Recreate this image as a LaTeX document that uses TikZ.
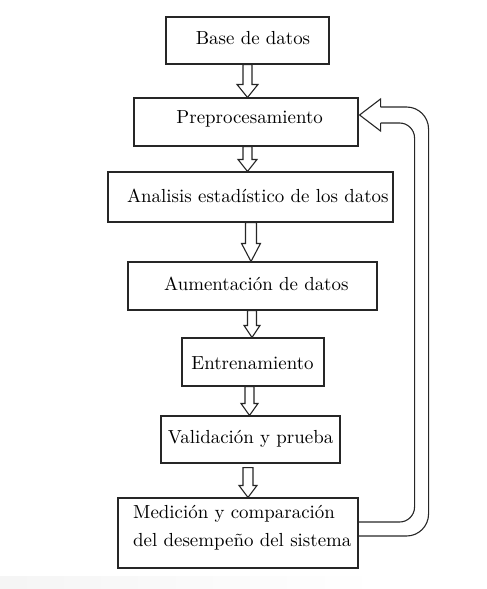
\documentclass[tikz,border=0pt]{standalone}
\usetikzlibrary{calc}
\begin{document}
\begin{tikzpicture}[x=1pt,y=-1pt,
  box/.style={draw=black!85, line width=1.1pt, inner sep=0pt},
  txt/.style={inner sep=0pt, anchor=base, font=\fontsize{10}{12}\selectfont},
  arrowline/.style={draw=black!85, line width=1.1pt, fill=white, line join=miter}]
\useasboundingbox (0,0) rectangle (487,589);
\shade[left color=black!4, right color=white, draw=none] (0,576) rectangle (380,589);

\newcommand\blockar[6]{%
  \draw[arrowline] let \p1=(#1), \p2=(#2) in
   (\x1+#3-#4,\y1) -- (\x1+#3-#4,\y2+#6) -- (\x1+#3-#5,\y2+#6) -- (\x1+#3,\y2)
   -- (\x1+#3+#5,\y2+#6) -- (\x1+#3+#4,\y2+#6) -- (\x1+#3+#4,\y1) -- cycle;}
\newcommand\bigtxt[1]{\scalebox{1.89}{#1}}

% boxes
\node[box, minimum width=163, minimum height=47] (b1) at (247.5,40.5) {};
\node[box, minimum width=224, minimum height=48] (b2) at (246,122) {};
\node[box, minimum width=285, minimum height=50] (b3) at (250.5,197) {};
\node[box, minimum width=249, minimum height=48] (b4) at (252.5,286) {};
\node[box, minimum width=142, minimum height=48] (b5) at (253,362) {};
\node[box, minimum width=179, minimum height=47] (b6) at (250.5,439.5) {};
\node[box, minimum width=240, minimum height=70] (b7) at (238,533) {};

% texts
\node[txt] (t1) at (253,44) {\bigtxt{Base de datos}};
\node[txt] (t2) at (249.7,123) {\bigtxt{Preprocesamiento}};
\node[txt] (t3) at (257.8,202) {\bigtxt{Analisis estadístico de los datos}};
\node[txt] (t4) at (256.3,290.7) {\bigtxt{Aumentación de datos}};
\node[txt] (t5) at (252.5,369) {\bigtxt{Entrenamiento}};
\node[txt] (t6) at (250.5,443) {\bigtxt{Validación y prueba}};
\node[txt, anchor=base west] (t7a) at (133,518) {\bigtxt{Medición y comparación}};
\node[txt, anchor=base west] (t7b) at (133,546) {\bigtxt{del desempeño del sistema}};

% block arrows
\blockar{b1.south}{b2.north}{0}{4.5}{10.5}{13}
\blockar{b2.south}{b3.north}{1.5}{4.5}{9.5}{12}
\blockar{b3.south}{b4.north}{0.5}{5.5}{9.5}{18}
\blockar{b4.south}{b5.north}{-0.5}{4.5}{8}{12}
\blockar{b5.south}{b6.north}{-3.5}{4.5}{8.5}{12}
\blockar{[yshift=-4pt]b6.south}{b7.north}{-2.5}{5}{9}{12}

% feedback arrow
\draw[arrowline, fill=none] let \p1=(b7.east), \p2=(b2.east) in
  (\x1,\y1+11) [rounded corners=15pt] -- (\x1+56,\y1+11) -- (\x1+56,\y2-1) -- (\x2+22,\y2-1);
\draw[arrowline, fill=none] let \p1=(b7.east), \p2=(b2.east) in
  (\x2+22,\y2-1) -- (\x2+22,\y2-9) -- (\x2+1,\y2+7) -- (\x2+22,\y2+23) -- (\x2+22,\y2+15);
\draw[arrowline, fill=none] let \p1=(b7.east), \p2=(b2.east) in
  (\x2+22,\y2+15) [rounded corners=22pt] -- (\x1+70,\y2+15) -- (\x1+70,\y1-3) -- (\x1,\y1-3);
\end{tikzpicture}
\end{document}
